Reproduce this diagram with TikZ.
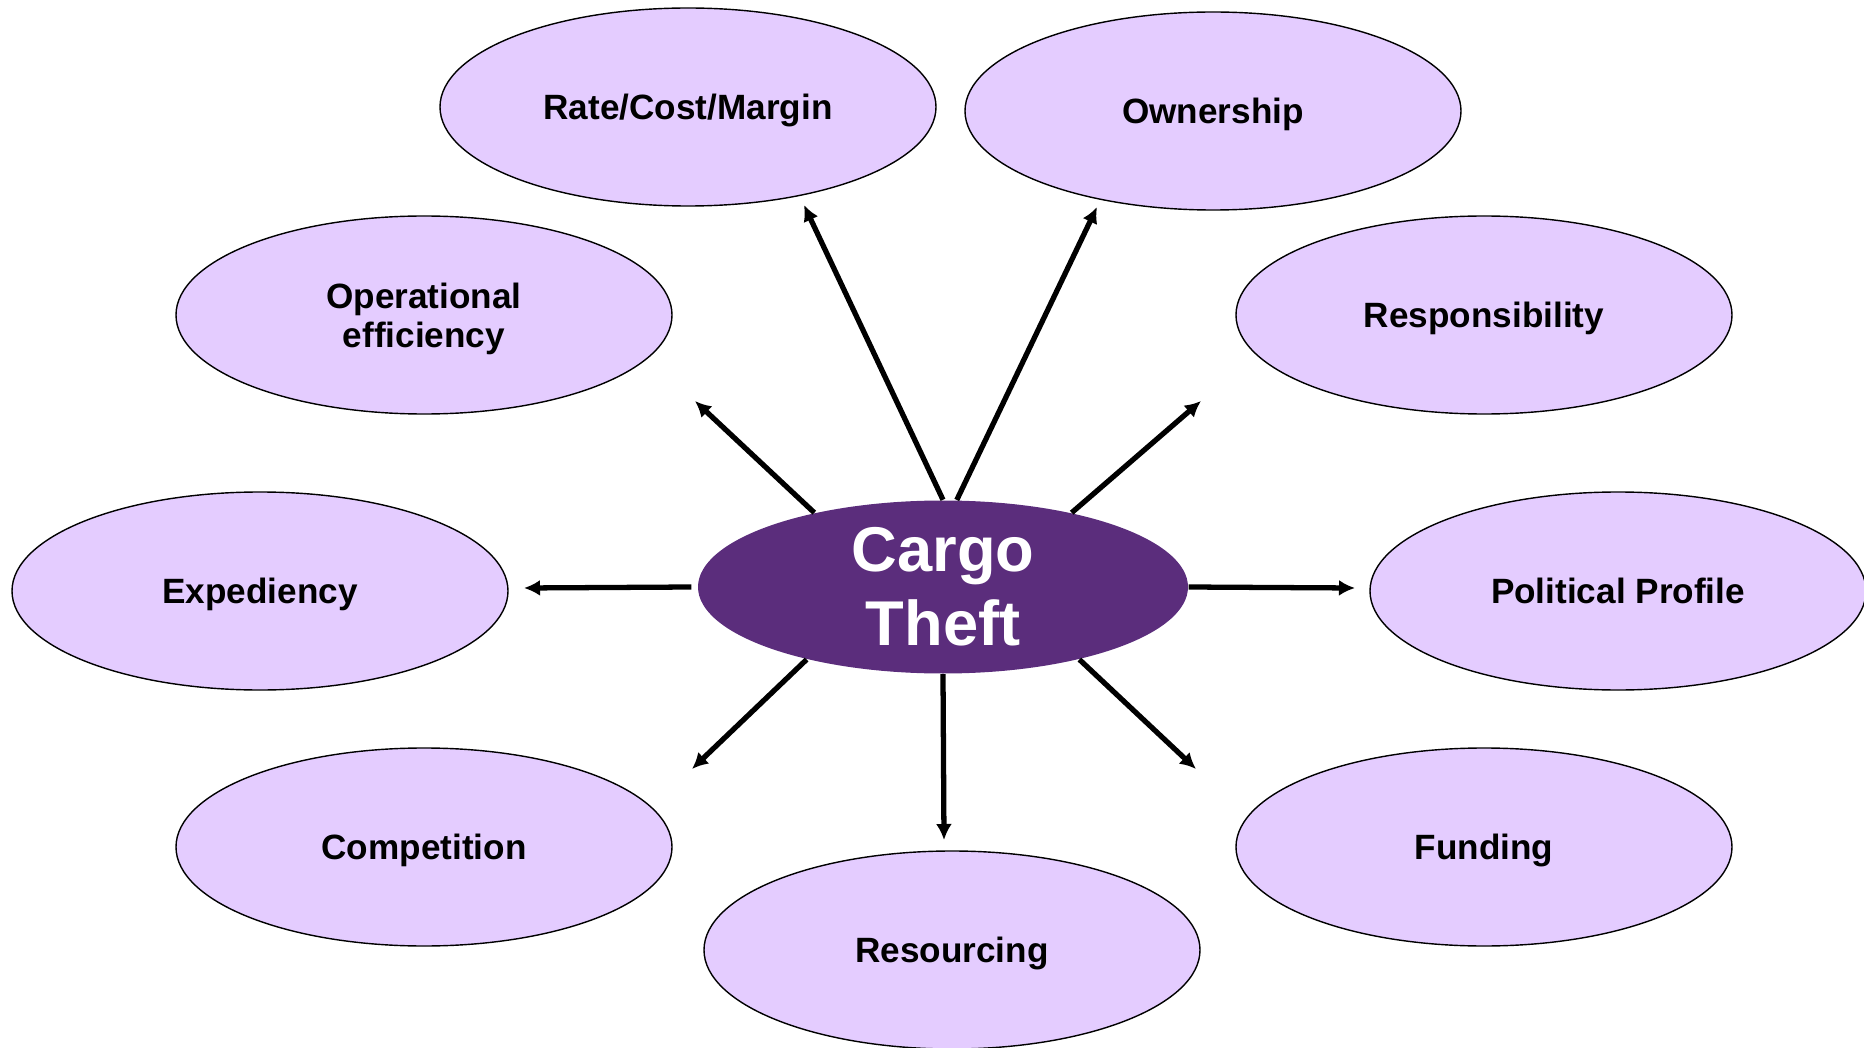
\documentclass[tikz,border=0pt]{standalone}
\usepackage{fontspec}
\setmainfont{Liberation Sans}
\usetikzlibrary{shapes.geometric,arrows.meta}
\definecolor{lilac}{RGB}{228,204,255}
\definecolor{plum}{RGB}{91,45,124}

\begin{document}
\begin{tikzpicture}[
        bubble/.style={draw, ellipse, fill=lilac, line width=0.4pt, minimum width=4.96cm, minimum height=1.98cm, inner sep=0pt, align=center, text depth=0pt, font=\bfseries\fontsize{10}{11}\selectfont},
        hub/.style={ellipse, fill=plum, text=white, minimum width=4.9cm, minimum height=1.73cm, inner sep=0pt, align=center, font=\bfseries\fontsize{18}{21}\selectfont},
        spoke/.style={-{Latex[length=1.6mm,width=1.6mm]}, line width=1.5pt}
    ]
            \useasboundingbox (0,0) rectangle (18.64,-10.48);

            \node[hub] (ct) at (9.43,-5.87) {Cargo\\Theft};

            \node[bubble] (rate) at (6.88,-1.07) {Rate/Cost/Margin};
            \node[bubble] (own) at (12.13,-1.11) {Ownership};
            \node[bubble] (ops) at (4.24,-3.15) {Operational\\efficiency};
            \node[bubble] (resp) at (14.84,-3.15) {Responsibility};
            \node[bubble] (exp) at (2.60,-5.91) {Expediency};
            \node[bubble] (pol) at (16.18,-5.91) {Political Profile};
            \node[bubble] (comp) at (4.24,-8.47) {Competition};
            \node[bubble] (fund) at (14.84,-8.47) {Funding};
            \node[bubble] (res) at (9.52,-9.50) {Resourcing};

            \coordinate (trate) at (8.04,-2.05);
            \coordinate (town) at (10.97,-2.07);
            \coordinate (tops) at (6.95,-4.01);
            \coordinate (tresp) at (12.01,-4.01);
            \coordinate (texp) at (5.24,-5.88);
            \coordinate (tpol) at (13.55,-5.88);
            \coordinate (tcomp) at (6.92,-7.69);
            \coordinate (tres) at (9.44,-8.40);
            \coordinate (tfund) at (11.96,-7.69);

            \draw[spoke] (ct.90) -- (trate);
            \draw[spoke] (ct.81) -- (town);
            \draw[spoke] (ct.150) -- (tops);
            \draw[spoke] (ct.30) -- (tresp);
            \draw[spoke] (ct.west) ++(-0.06,0) -- (texp);
            \draw[spoke] (ct.east) -- (tpol);
            \draw[spoke] (ct.208) -- (tcomp);
            \draw[spoke] (ct.south) -- (tres);
            \draw[spoke] (ct.332) -- (tfund);
\end{tikzpicture}
\end{document}
